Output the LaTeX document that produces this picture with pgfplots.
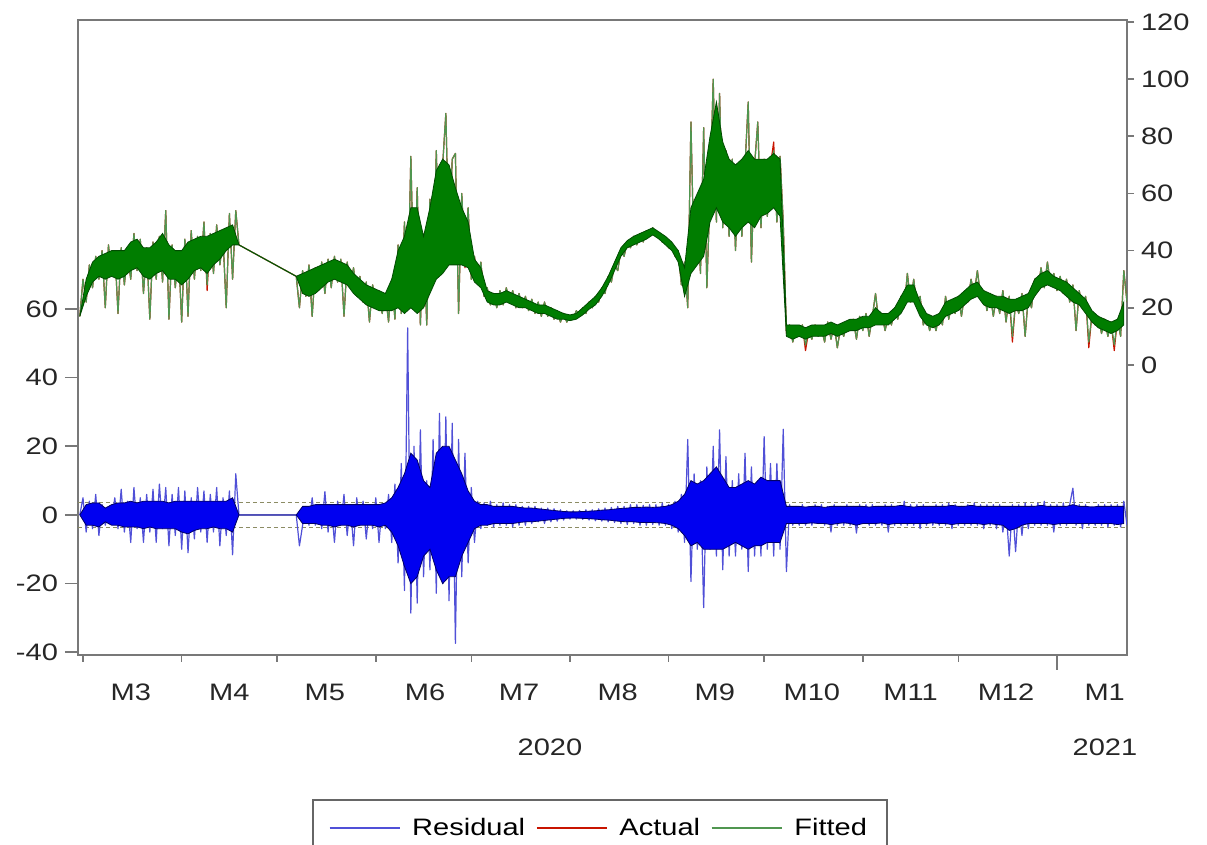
\documentclass[border=0pt]{standalone}
\usepackage{fontspec}
\setmainfont{Liberation Sans}[FakeStretch=1.22]
\usepackage{pgfplots}
\usepackage{pgfplotstable}
\usepgfplotslibrary{fillbetween}
\pgfplotsset{compat=1.18}
\newcommand\fs{\fontsize{11.9pt}{14pt}\selectfont}
\definecolor{resblue}{RGB}{0,0,240}
\definecolor{resspike}{RGB}{80,80,215}
\definecolor{actred}{RGB}{200,20,0}
\definecolor{fitgreen}{RGB}{0,125,0}
\definecolor{fitspike}{RGB}{80,150,80}
\definecolor{axgray}{RGB}{120,120,120}
\definecolor{dashc}{RGB}{140,140,100}

% Actual (a) and Fitted (f), one row per day: day -1..49, then day 67..328
\pgfplotstableread[row sep=\\]{
f a\\
17 17\\30 30\\22 22\\35 35\\27 27\\38 38\\30 30\\40 40\\20 20\\42 42\\
31 31\\40 40\\18 18\\41 41\\28 28\\39 39\\30 30\\46 46\\33 33\\44 44\\
25 25\\41 41\\16 16\\43 43\\30 30\\45 45\\29 29\\54 54\\16 16\\42 42\\
27 27\\40 40\\15 15\\44 44\\17 17\\47 47\\30 30\\45 45\\33 33\\50 50\\
28 26\\46 46\\32 32\\49 49\\35 35\\44 44\\20 20\\53 53\\30 30\\54 54\\
42 42\\
31 31\\20 20\\33 33\\24 24\\35 35\\17 17\\34 34\\26 26\\36 36\\25 25\\
37 37\\27 27\\38 38\\29 29\\37 37\\17 17\\36 36\\28 28\\34 34\\24 24\\
31 31\\22 22\\29 29\\15 15\\28 28\\20 20\\26 26\\18 18\\25 25\\15 15\\
30 30\\16 16\\42 42\\18 18\\50 50\\20 20\\73 73\\25 25\\62 62\\14 14\\
45 45\\14 14\\58 58\\30 30\\75 75\\35 35\\70 70\\88 88\\40 40\\72 72\\
74 74\\18 18\\60 60\\37 34\\55 55\\30 30\\38 38\\29 29\\36 36\\24 24\\
27 27\\21 21\\25 25\\20 20\\26 26\\21 21\\27 27\\22 22\\26 26\\20 20\\
25 25\\20 20\\24 24\\19 19\\23 23\\18 18\\22 22\\17 17\\22 22\\17 17\\
20 20\\16 16\\19 19\\15 15\\18 18\\15 15\\17 17\\16 16\\19 19\\17 17\\
20 20\\18 18\\22 22\\20 20\\24 24\\22 22\\27 27\\25 25\\31 31\\29 29\\
35 35\\33 33\\40 40\\38 38\\43 43\\41 41\\45 45\\42 42\\46 46\\43 43\\
47 47\\45 45\\48 48\\45 45\\46 46\\43 43\\44 44\\41 41\\42 42\\38 38\\
40 40\\28 28\\36 36\\20 20\\85 85\\35 35\\55 55\\32 32\\83 83\\27 27\\
60 60\\100 100\\50 50\\95 95\\48 48\\75 75\\45 45\\72 72\\40 40\\68 68\\
45 45\\70 70\\92 92\\36 36\\70 70\\85 85\\48 48\\72 72\\52 52\\70 70\\
75 78\\50 50\\73 73\\50 50\\
11 11\\14 14\\8 8\\13 13\\10 10\\14 14\\7 5\\12 12\\9 9\\14 14\\
10 10\\13 13\\8 8\\15 15\\9 9\\14 14\\6 6\\13 13\\10 10\\15 15\\
12 12\\16 16\\9 9\\17 17\\12 12\\18 18\\10 10\\17 17\\25 25\\15 15\\
18 18\\12 12\\17 17\\14 14\\20 20\\16 16\\24 24\\20 20\\32 32\\22 22\\
30 30\\20 20\\24 24\\14 14\\17 17\\12 12\\16 16\\12 12\\18 18\\14 14\\
24 24\\16 16\\22 22\\18 18\\24 24\\17 17\\25 25\\22 22\\30 30\\25 25\\
33 33\\24 24\\26 26\\19 19\\25 25\\17 17\\24 24\\18 18\\26 26\\15 15\\
24 24\\10 8\\22 22\\18 18\\25 25\\10 10\\24 24\\20 20\\30 30\\26 26\\
34 34\\27 27\\36 36\\28 28\\32 32\\26 26\\31 31\\25 25\\30 30\\22 22\\
28 28\\12 12\\26 26\\20 20\\24 24\\8 6\\18 18\\14 14\\17 17\\11 11\\
16 16\\10 10\\15 15\\7 5\\16 16\\10 10\\33 33\\22 22\\
}\fittab

% Fitted: dense core range, every second day: day -1..49, then 67..327
\pgfplotstableread[row sep=\\]{
lo hi\\
17 17\\24 30\\29 36\\31 38\\30 39\\31 40\\30 40\\31 40\\33 43\\34 44\\
31 41\\30 41\\32 43\\33 46\\30 42\\30 40\\28 40\\30 43\\33 44\\34 45\\
32 45\\35 46\\37 47\\40 48\\42 49\\42 42\\
31 31\\25 32\\24 33\\25 34\\27 35\\29 36\\30 37\\29 36\\28 35\\25 32\\
23 30\\21 28\\20 27\\19 26\\19 25\\19 30\\20 40\\18 45\\20 55\\18 55\\
20 45\\25 55\\30 68\\32 72\\35 70\\35 62\\35 55\\34 50\\29 37\\27 34\\
22 26\\21 25\\21 25\\22 26\\21 25\\20 24\\20 23\\19 22\\18 21\\18 21\\
17 20\\16 19\\16 18\\15.5 17.5\\16 18\\17.5 20\\19.5 22\\21 24\\24 27\\28 31\\
33 36\\38 41\\41 43.5\\42 45\\43 46\\44 47\\45.5 48\\44 46.5\\42 45\\40 43\\
36 40\\24 34\\32 55\\35 60\\38 65\\50 80\\55 92\\50 78\\48 72\\45 70\\
48 72\\50 75\\48 72\\52 72\\53 72\\55 74\\52 72\\
10 14\\9 14\\10 14\\9 13\\10 14\\10 14\\10 14\\11 15\\10 14\\11 15\\
12 16\\12 16\\13 17\\13 17\\14 20\\14 18\\14 18\\16 20\\18 24\\22 28\\
22 28\\17 22\\14 18\\13 17\\14 18\\17 22\\18 23\\19 24\\21 26\\23 28\\
24 29\\21 26\\20 25\\20 24\\19 24\\18 23\\19 23\\19 24\\20 25\\24 30\\
27 32\\28 33\\27 31\\26 30\\24 29\\22 27\\21 25\\18 23\\15 19\\13 17\\
12 16\\11 15\\12 16\\14 22\\
}\fband

% Residual, one row per day: day -1..49, then 67..328
\pgfplotstableread[row sep=\\]{
r\\
0\\5\\-5\\4\\-4\\6\\-6\\3\\-3\\1\\
-1\\5\\-4\\7.5\\-5\\4\\-8\\8\\-4\\5\\
-8\\6\\-5\\7.5\\-8\\9\\-4\\8\\-9\\6\\
-6\\8\\-10\\7\\-11\\5\\-7\\8\\-5\\7\\
-8\\6\\-5\\8\\-9\\5\\-6\\7\\-11.6\\12\\
0\\
0\\-9\\-3\\2.5\\-3\\5\\-3\\3\\-4\\6.8\\
-5\\3\\-8\\4\\-3\\6\\-6\\3\\-9\\5\\
-3\\4\\-7\\3\\-4\\5\\-8\\3\\-4\\6\\
-8\\9\\-14\\15\\-22\\54.5\\-28.6\\20\\-25.7\\24.8\\
-18\\10\\-16\\22\\-22.8\\29.6\\-20\\28.6\\-25\\26.7\\
-37.4\\22\\-18\\18\\-14\\8\\-8\\4\\-4\\3.5\\
-3\\4\\-3.5\\3\\-3\\3.5\\-3\\3\\-3.5\\3\\
-3\\2.5\\-3\\2.5\\-2.5\\2.5\\-2\\2\\-2.5\\2\\
-2\\1.8\\-1.8\\1.5\\-1.5\\1.2\\-1.2\\1.2\\-1.2\\1.3\\
-1.3\\1.5\\-1.5\\1.5\\-1.7\\1.8\\-1.8\\2\\-2\\2.2\\
-2.2\\2.5\\-2.5\\2.5\\-2.8\\3\\-2.5\\3\\-3\\2.8\\
-3\\3\\-2.8\\3\\-3\\3.5\\-3\\3\\-4\\4\\
-5\\6\\-8\\22\\-19.4\\12\\-10\\10\\-27\\14\\
-10\\20\\-12\\24.8\\-16\\17\\-12\\10\\-12\\12\\
-10\\18\\-16.5\\14\\-12\\10\\-12\\22.8\\-10\\15\\
-12\\15\\-10\\25\\
-16.5\\3\\-3\\2.5\\-3\\3\\-3\\2.5\\-3\\3\\
-2.5\\3\\-3\\2.5\\-5\\3\\-3\\2.5\\-3\\3\\
-3\\2.5\\-5.3\\3\\-2.5\\3\\-3\\3\\-3\\2.5\\
-3\\3\\-5\\3\\-3\\2.5\\-3\\4\\-3\\3\\
-3\\3\\-4\\3\\-3\\2.5\\-3\\3\\-3\\3\\
-3\\3.5\\-4\\3\\-3\\2.5\\-3\\3\\-3\\3.5\\
-3\\3\\-4\\3\\-3\\3\\-4\\3\\-5\\2\\
-12\\3\\-10.7\\3\\-6\\3.5\\-4\\3\\-3\\3.5\\
-3\\4\\-3\\3\\-5\\3\\-3\\3.5\\-3\\3\\
7.8\\-3\\3\\-4\\3\\-3\\2.5\\-3\\3\\-3\\
3\\-3.5\\3\\-3\\3\\-3.5\\4\\-3\\
}\restab

% Residual: dense core range, every second day
\pgfplotstableread[row sep=\\]{
lo hi\\
0 0\\-3 3\\-3 3.5\\-3.5 3.5\\-2 2\\-3 3\\-3 3.5\\-3.5 3.5\\-3.5 4\\-3.5 3.5\\
-4 4\\-3.5 4\\-4 4\\-4 4\\-4 3.5\\-4 4\\-5 4\\-5.5 4\\-4.5 4\\-4 4\\
-4 4\\-3.5 4\\-4 4\\-4 4\\-5 5\\0 0\\
0 0\\-2.5 2.5\\-2.5 2.5\\-2.5 3\\-3 3\\-3 3\\-3.5 3\\-3 3\\-3 3\\-3.5 3\\
-3 3\\-3 3\\-3 3\\-3.5 3\\-3 3.5\\-5 5\\-9 8\\-15 12\\-20 18\\-18 16\\
-12 10\\-10 8\\-16 18\\-20 20\\-18 20\\-18 16\\-12 12\\-8 7\\-4 4\\-3 3\\
-3 3\\-2.5 2.5\\-2.5 2.5\\-2.5 2.5\\-2.5 2.5\\-2.2 2.2\\-2 2\\-2 2\\-1.8 1.8\\-1.6 1.6\\
-1.4 1.4\\-1.2 1.2\\-1 1\\-0.9 0.9\\-0.9 0.9\\-1 1\\-1.1 1.1\\-1.2 1.2\\-1.4 1.4\\-1.5 1.5\\
-1.7 1.7\\-1.9 1.9\\-2 2\\-2 2.2\\-2.2 2.2\\-2.2 2.3\\-2.2 2.2\\-2.3 2.3\\-2.5 2.5\\-3 3\\
-4 4\\-6 6\\-9 10\\-8 9\\-10 10\\-10 12\\-10 14\\-10 11\\-9 8\\-8 8\\
-9 9\\-10 10\\-9 9\\-9 11\\-8 10\\-8 10\\-8 10\\
-2.5 2.5\\-2.5 2.5\\-2.5 2.5\\-2.5 2.3\\-2.3 2.5\\-2.5 2.5\\-2.5 2.2\\-2.8 2.5\\-2.5 2.5\\-2.3 2.5\\
-2.5 2.5\\-3 2.5\\-2.5 2.5\\-2.5 2.3\\-2.5 2.5\\-2.3 2.5\\-2.8 2.5\\-2.5 2.5\\-2.5 2.8\\-2.5 2.5\\
-2.5 2.3\\-2.5 2.5\\-2.5 2.5\\-2.3 2.5\\-2.5 2.5\\-2.5 2.5\\-2.8 2.8\\-2.5 2.5\\-2.5 2.5\\-2.5 2.8\\
-2.5 2.5\\-2.8 2.5\\-2.5 2.5\\-2.8 2.5\\-3 2.5\\-4.5 2.5\\-4 2.5\\-3 2.5\\-2.5 2.5\\-2.5 2.5\\
-2.5 2.8\\-2.5 2.5\\-2.8 2.5\\-2.5 2.5\\-2.5 2.5\\-2.5 3\\-2.5 2.5\\-2.5 2.5\\-2.5 2.3\\-2.5 2.5\\
-2.5 2.5\\-2.5 2.5\\-2.8 2.5\\-2.5 2.5\\
}\rband

\pgfplotsset{
  every axis/.append style={
    scale only axis, width=524.5pt, height=317.5pt,
    at={(0pt,0pt)}, anchor=south west,
    xmin=-1.57, xmax=328,
    tick align=outside,
    axis line style={draw=axgray, line width=0.8pt},
    tick style={draw=axgray, line width=0.8pt},
    tick label style={font=\fs, text=black!85},
    /pgf/number format/assume math mode=true,
    fill between/on layer=main,
  },
  table/dayx/.style={x expr={\coordindex<51 ? \coordindex-1 : \coordindex+16}},
  table/bandx/.style={x expr={\coordindex<26 ? 2*\coordindex-1 : 2*\coordindex+15}},
}

\begin{document}
\begin{tikzpicture}
% left axis: residual
\begin{axis}[
  axis lines=box,
  ymin=-40.8, ymax=144.2,
  xtick=\empty,
  ytick={-40,-20,0,20,40,60},
  ytick pos=left,
  major tick length=6.5pt,
]
\addplot[dashc, line width=0.6pt, dash pattern=on 2pt off 1.5pt, forget plot] coordinates {(-1.57,3.6) (328,3.6)};
\addplot[dashc, line width=0.6pt, dash pattern=on 2pt off 1.5pt, forget plot] coordinates {(-1.57,-3.6) (328,-3.6)};
\addplot[resspike, line width=0.6pt, line join=round, mark=none, forget plot]
  table[dayx, y=r] {\restab};
\addplot[draw=none, mark=none, forget plot, name path=rl] table[bandx, y=lo] {\rband};
\addplot[draw=none, mark=none, forget plot, name path=rh] table[bandx, y=hi] {\rband};
\addplot[fill=resblue, draw=blue!40!black, line width=0.4pt, forget plot] fill between[of=rl and rh];
\end{axis}
% right axis: actual and fitted, and the date axis
\begin{axis}[
  axis x line*=bottom, axis y line*=right,
  ymin=-101.5, ymax=120.7,
  ytick={0,20,...,120},
  major tick length=3.5pt,
  minor tick length=7.5pt,
  xtick={0,31,61,92,122,153,184,214,245,275},
  xticklabels={},
  minor xtick={306},
  extra x ticks={15,46,76,107.5,137,168,198.5,229,260,290,321},
  extra x tick labels={M3,M4,M5,M6,M7,M8,M9,M10,M11,M12,M1},
  extra x tick style={major tick length=0pt, tick label style={yshift=-11pt}},
  legend columns=3,
  legend style={at={(0.4976,-0.2268)}, anchor=north, draw=black!60, line width=0.8pt,
    font=\fs, inner xsep=8pt, inner ysep=7pt,
    /tikz/every even column/.append style={column sep=3.5pt},
    /tikz/every odd column/.append style={column sep=4pt}},
  legend image code/.code={\draw[#1, line width=0.6pt] (0pt,0pt) -- (35pt,0pt);},
]
\addplot[actred, line width=0.6pt, line join=round, mark=none, forget plot]
  table[dayx, y=a] {\fittab};
\addplot[fitspike, line width=0.6pt, line join=round, mark=none, forget plot]
  table[dayx, y=f] {\fittab};
\addplot[draw=none, mark=none, forget plot, name path=fl] table[bandx, y=lo] {\fband};
\addplot[draw=none, mark=none, forget plot, name path=fh] table[bandx, y=hi] {\fband};
\addplot[fill=fitgreen, draw=fitgreen!60!black, line width=0.4pt, forget plot] fill between[of=fl and fh];
\addlegendimage{resspike}
\addlegendentry{Residual}
\addlegendimage{actred}
\addlegendentry{Actual}
\addlegendimage{fitspike}
\addlegendentry{Fitted}
\end{axis}
\node[font=\fs, text=black!85] at (236pt,-46pt) {2020};
\node[font=\fs, text=black!85] at (513.5pt,-46pt) {2021};
\pgfresetboundingbox
\path[use as bounding box] (-39pt,-95pt) rectangle (564.5pt,327.5pt);
\end{tikzpicture}
\end{document}
